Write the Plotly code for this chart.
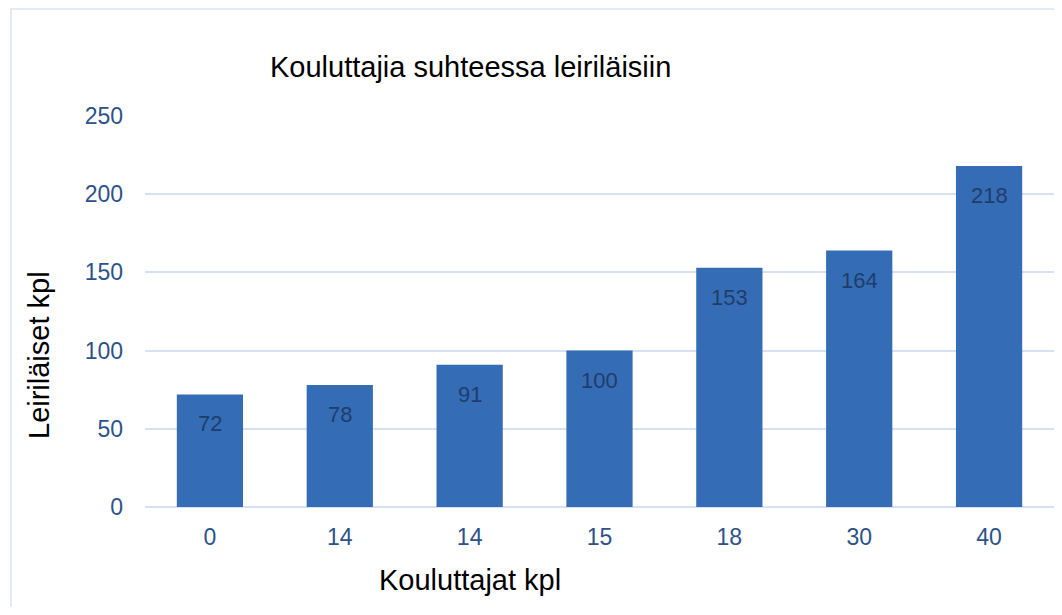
import plotly.graph_objects as go

categories = ["0", "14", "14", "15", "18", "30", "40"]
values = [72, 78, 91, 100, 153, 164, 218]
positions = list(range(len(categories)))

title_text = "Kouluttajia suhteessa leiriläisiin"
x_title = "Kouluttajat kpl"
y_title = "Leiriläiset kpl"

OFF = 8  # page body margin
W, H = 1046, 599
L, R, T, B = 137, 0, 108, 100
pw, ph = W - L - R, H - T - B

def px_x(p):
    return (p - OFF - L) / pw

def px_y(p):
    return (H - B - (p - OFF)) / ph

FONT = "Liberation Sans, Arial"

fig = go.Figure()
fig.add_trace(go.Bar(
    x=positions, y=values,
    marker=dict(color="#346db5", line=dict(width=0)),
    width=0.51,
    hoverinfo="skip",
))

annotations = []
for p, v in zip(positions, values):
    annotations.append(dict(
        x=p, y=v, xref="x", yref="y", text=str(v), showarrow=False,
        yanchor="top", yshift=-15,
        font=dict(family=FONT, size=22, color="#1f3d6b"),
    ))
annotations.append(dict(
    x=px_x(470), y=px_y(580), xref="paper", yref="paper", text=x_title,
    showarrow=False, xanchor="center", yanchor="middle",
    font=dict(family=FONT, size=29, color="black"),
))
annotations.append(dict(
    x=px_x(39), y=px_y(355), xref="paper", yref="paper", text=y_title,
    showarrow=False, xanchor="center", yanchor="middle", textangle=-90,
    font=dict(family=FONT, size=29, color="black"),
))
annotations.append(dict(
    x=px_x(470), y=px_y(67), xref="paper", yref="paper", text=title_text,
    showarrow=False, xanchor="center", yanchor="middle",
    font=dict(family=FONT, size=29, color="black"),
))

fig.update_layout(
    width=W, height=H,
    margin=dict(l=L, r=R, t=T, b=B, autoexpand=False),
    paper_bgcolor="white", plot_bgcolor="white",
    font=dict(family=FONT, color="#2c5289"),
    showlegend=False,
    xaxis=dict(
        tickmode="array", tickvals=positions, ticktext=categories,
        range=[-0.5, len(categories) - 0.5],
        showgrid=False, zeroline=False, showline=False,
        ticks="", ticklabelstandoff=14,
        tickfont=dict(size=23, color="#2c5289"),
    ),
    yaxis=dict(
        range=[0, 250], tickvals=[0, 50, 100, 150, 200, 250],
        showgrid=True, gridcolor="#d6e2f2", gridwidth=2,
        zeroline=True, zerolinecolor="#d6e2f2", zerolinewidth=2,
        showline=False, ticks="", ticklabelstandoff=21,
        tickfont=dict(size=23, color="#2c5289"),
    ),
    annotations=annotations,
    shapes=[dict(
        type="rect", xref="paper", yref="paper",
        x0=px_x(11), x1=px_x(1080), y0=px_y(640), y1=px_y(9),
        line=dict(color="#d9e3f1", width=1.5), fillcolor="rgba(0,0,0,0)", layer="below",
    )],
)

fig.write_html("out.html")
